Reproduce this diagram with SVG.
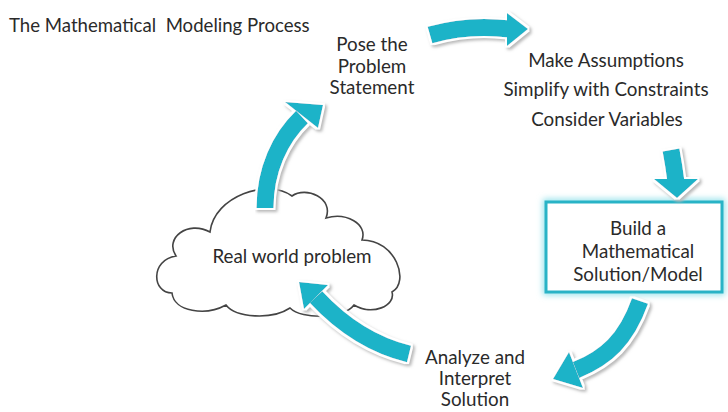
<svg xmlns="http://www.w3.org/2000/svg" width="728" height="412" viewBox="0 0 728 412">
  <defs>
    <filter id="shadow" x="-20%" y="-20%" width="140%" height="140%">
      <feMorphology in="SourceAlpha" operator="dilate" radius="2" result="grow"/>
      <feFlood flood-color="#ffffff"/>
      <feComposite in2="grow" operator="in" result="white"/>
      <feGaussianBlur in="grow" stdDeviation="1.5" result="blur"/>
      <feOffset in="blur" dx="1.5" dy="1.5" result="off"/>
      <feFlood flood-color="#b9b9b9"/>
      <feComposite in2="off" operator="in" result="gray"/>
      <feMerge>
        <feMergeNode in="gray"/>
        <feMergeNode in="white"/>
        <feMergeNode in="SourceGraphic"/>
      </feMerge>
    </filter>
    <filter id="glow" x="-20%" y="-30%" width="140%" height="160%">
      <feGaussianBlur stdDeviation="3"/>
    </filter>
  </defs>
  <style>
    text { font-family: Lato, "Open Sans", "Liberation Sans", sans-serif; fill: #2a2a2a; }
    .lbl { font-size: 18.8px; text-anchor: middle; }
    .title { font-size: 18.6px; white-space: pre; }
    .shaft { fill: none; stroke: #1db3c8; stroke-width: 17; stroke-linecap: butt; }
    .head { fill: #1db3c8; }
    .cloud { fill: #ffffff; stroke: #444444; stroke-width: 1.6; }
  </style>
  <rect width="728" height="412" fill="#ffffff"/>

  <text class="title" x="9" y="32" xml:space="preserve">The Mathematical  Modeling Process</text>

  <g id="real-world">
    <path class="cloud" d="M172,293 C152,293 150,260 176,256 C164,238 188,220 210,232 C214,196 268,178 292,196 C306,186 334,198 326,218 C346,212 368,224 362,240 C396,240 410,282 392,292 C396,306 372,316 354,305 C344,319 302,320 290,308 C272,320 236,318 226,305 C206,316 174,312 172,293 Z"/>
    <text class="lbl" x="292" y="263">Real world problem</text>
  </g>

  <g id="pose">
    <text class="lbl" x="372" y="51">Pose the</text>
    <text class="lbl" x="372" y="73">Problem</text>
    <text class="lbl" x="372" y="94">Statement</text>
  </g>

  <g id="assumptions">
    <text class="lbl" x="606" y="67">Make Assumptions</text>
    <text class="lbl" x="606" y="96">Simplify with Constraints</text>
    <text class="lbl" x="607" y="126">Consider Variables</text>
  </g>

  <g id="build">
    <rect x="546" y="202" width="176" height="90" fill="none" stroke="#8fe0ea" stroke-width="6" filter="url(#glow)"/>
    <rect x="546" y="202" width="176" height="90" fill="#ffffff" stroke="#29b3c6" stroke-width="3"/>
    <text class="lbl" x="638" y="235">Build a</text>
    <text class="lbl" x="638" y="258">Mathematical</text>
    <text class="lbl" x="638" y="281">Solution/Model</text>
  </g>

  <g id="analyze">
    <text class="lbl" x="475" y="364">Analyze and</text>
    <text class="lbl" x="475" y="385">Interpret</text>
    <text class="lbl" x="475" y="406">Solution</text>
  </g>

  <g id="connectors">
    <g filter="url(#shadow)">
      <path class="shaft" d="M430,35 Q468,24 510,29"/>
      <polygon class="head" points="507,13 528,29 507,46"/>
    </g>
    <g filter="url(#shadow)">
      <path class="shaft" d="M671,150 Q674,166 676,182"/>
      <polygon class="head" points="654,179 698,179 677,198"/>
    </g>
    <g filter="url(#shadow)">
      <path class="shaft" d="M640,301 C626,340 606,358 576,370"/>
      <polygon class="head" points="569,352 583,388 553,379"/>
    </g>
    <g filter="url(#shadow)">
      <path class="shaft" d="M409,354 C372,345 342,325 316,297"/>
      <polygon class="head" points="328,285 304,309 299,282"/>
    </g>
    <g filter="url(#shadow)">
      <path class="shaft" d="M265,208 C265,170 280,138 302,117"/>
      <polygon class="head" points="285,102 318,128 323,105"/>
    </g>
  </g>
</svg>
